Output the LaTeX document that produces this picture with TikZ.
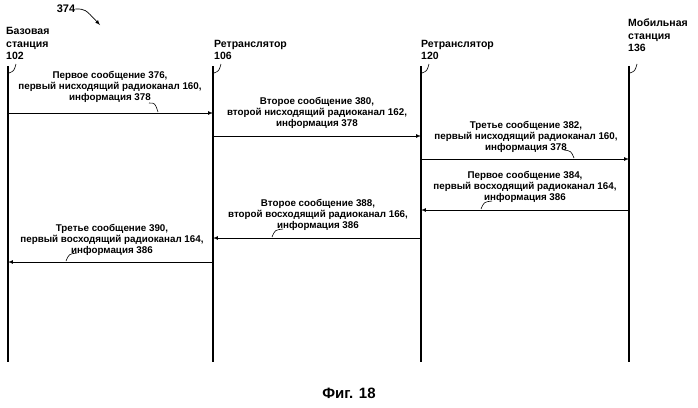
\documentclass[tikz,border=0pt]{standalone}
\usepackage{fontspec}
\setmainfont{Liberation Sans}
\begin{document}
\begin{tikzpicture}[x=1pt,y=-1pt,
  lbl/.style={font=\bfseries\fontsize{9.8}{11}\selectfont,align=center,inner sep=0pt},
  hd/.style={font=\bfseries\fontsize{10.5}{12.5}\selectfont,align=left,inner sep=0pt,anchor=south west},
  life/.style={line width=1.3pt},
  msg/.style={line width=0.7pt,-latex},
  hook/.style={line width=0.6pt}]
\useasboundingbox (0,0) rectangle (698,407);
% headers
\node[hd] (h1) at (6,60) {Базовая\\станция\\102};
\node[hd] (h2) at (214,60) {Ретранслятор\\106};
\node[hd] (h3) at (421,60) {Ретранслятор\\120};
\node[hd] (h4) at (628,52) {Мобильная\\станция\\136};
\node[font=\bfseries\fontsize{11}{12}\selectfont,inner sep=0pt] (n374) at (66,9) {374};
\coordinate (a374) at (100,25);
\draw[line width=0.7pt,-latex] (n374.east) .. controls (85,9) .. (a374);
% lifelines
\foreach \n/\x in {1/8,2/213,3/421,4/629}{
  \coordinate (t\n) at (\x,66);
  \coordinate (b\n) at (\x,362);
  \draw[life] (t\n) -- (b\n);
  \draw[hook] (\x+1,73) .. controls (\x+6,71) .. (\x+8,64);
}
% messages
\coordinate (m1s) at (8,113); \coordinate (m1e) at (213,113);
\coordinate (m2s) at (213,136); \coordinate (m2e) at (421,136);
\coordinate (m3s) at (421,159); \coordinate (m3e) at (629,159);
\coordinate (m4s) at (629,210); \coordinate (m4e) at (421,210);
\coordinate (m5s) at (421,238); \coordinate (m5e) at (213,238);
\coordinate (m6s) at (213,262); \coordinate (m6e) at (8,262);
\foreach \i in {1,...,6}{\draw[msg] (m\i s) -- (m\i e);}
\node[lbl] (l1) at (110,87) {Первое сообщение 376,\\первый нисходящий радиоканал 160,\\информация 378};
\node[lbl] (l2) at (317,113) {Второе сообщение 380,\\второй нисходящий радиоканал 162,\\информация 378};
\node[lbl] (l3) at (526,137) {Третье сообщение 382,\\первый нисходящий радиоканал 160,\\информация 378};
\node[lbl] (l4) at (525,187) {Первое сообщение 384,\\первый восходящий радиоканал 164,\\информация 386};
\node[lbl] (l5) at (318,215) {Второе сообщение 388,\\второй восходящий радиоканал 166,\\информация 386};
\node[lbl] (l6) at (112,240) {Третье сообщение 390,\\первый восходящий радиоканал 164,\\информация 386};
% hooks to arrows
\draw[hook] (149,103) .. controls (155,103) .. (158,112);
\draw[hook] (564,150) .. controls (571,151) .. (574,158);
\draw[hook] (492,201) .. controls (484,202) .. (481,209);
\draw[hook] (283,229) .. controls (275,230) .. (272,237);
\draw[hook] (77,253) .. controls (69,254) .. (66,261);
\node[font=\bfseries\fontsize{15}{17}\selectfont,inner sep=0pt] (cap) at (349,393) {Фиг. 18};
\end{tikzpicture}
\end{document}
